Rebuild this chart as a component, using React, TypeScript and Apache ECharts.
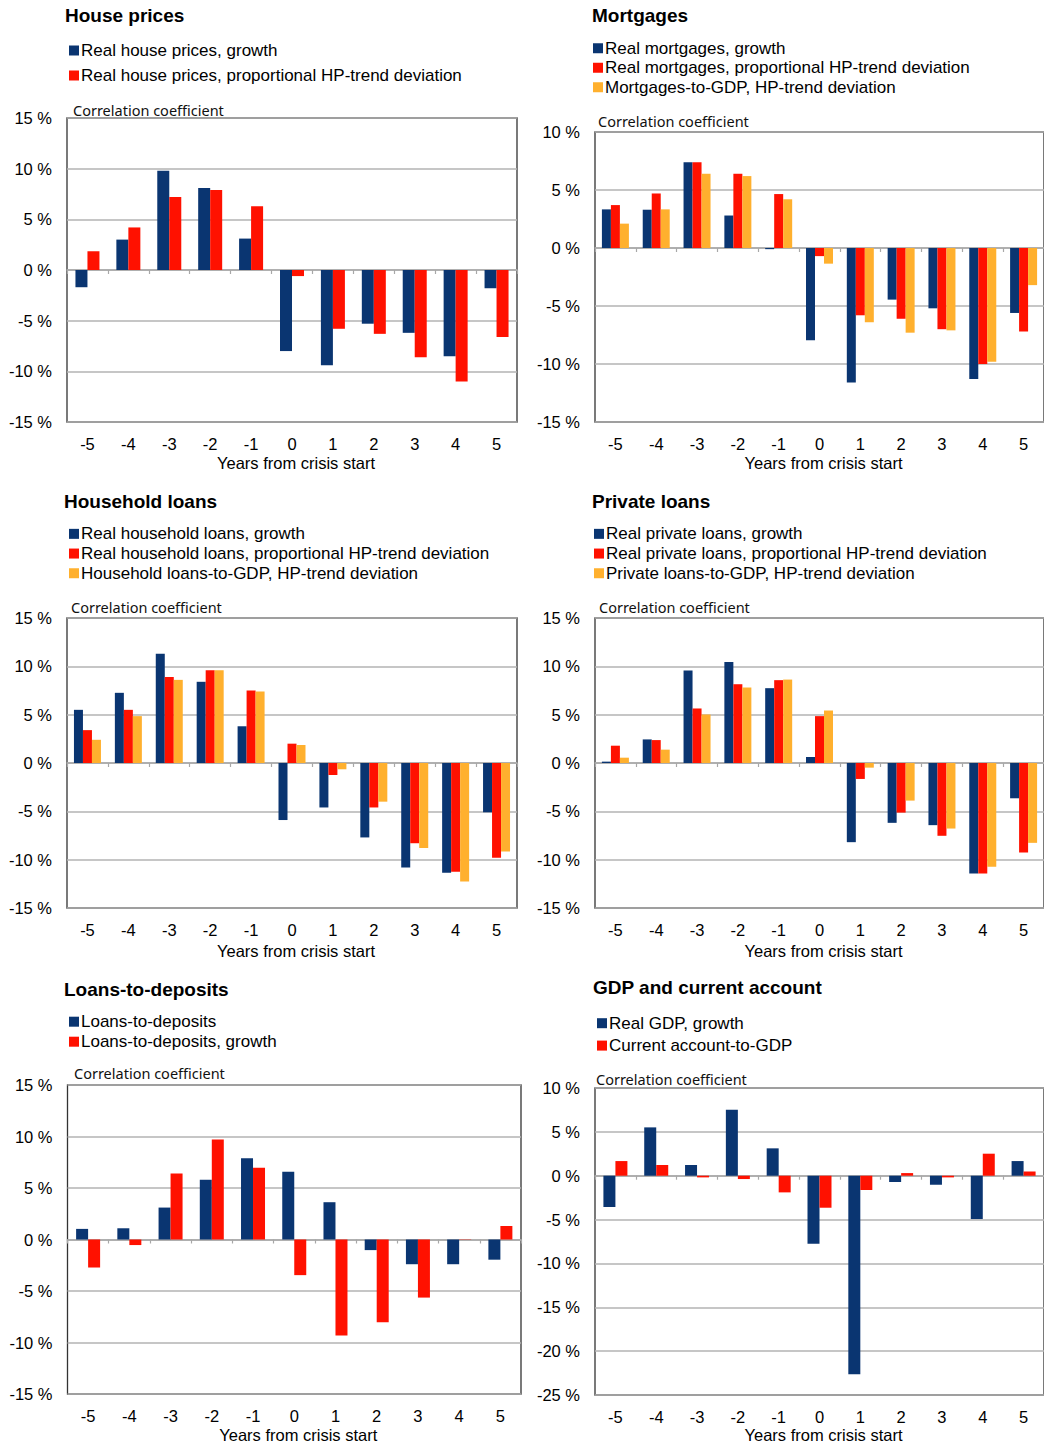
import React, { useEffect, useRef } from 'react';
import * as echarts from 'echarts';

// ---- Data ----
const YEARS = ['-5', '-4', '-3', '-2', '-1', '0', '1', '2', '3', '4', '5'];

const houseGrowth = [-1.7, 3.0, 9.8, 8.1, 3.1, -8.0, -9.4, -5.3, -6.2, -8.5, -1.8];
const houseHP = [1.85, 4.2, 7.2, 7.9, 6.3, -0.6, -5.8, -6.3, -8.6, -11.0, -6.6];

const mortGrowth = [3.33, 3.3, 7.4, 2.8, -0.1, -7.96, -11.6, -4.45, -5.2, -11.3, -5.6];
const mortHP = [3.7, 4.7, 7.4, 6.4, 4.65, -0.7, -5.8, -6.1, -7.0, -10.0, -7.2];
const mortToGDP = [2.1, 3.33, 6.4, 6.2, 4.2, -1.35, -6.4, -7.3, -7.1, -9.8, -3.2];

const hhGrowth = [5.5, 7.26, 11.3, 8.4, 3.8, -5.9, -4.6, -7.7, -10.8, -11.35, -5.1];
const hhHP = [3.4, 5.5, 8.9, 9.6, 7.5, 2.0, -1.24, -4.6, -8.3, -11.25, -9.8];
const hhToGDP = [2.4, 4.85, 8.6, 9.6, 7.4, 1.86, -0.65, -4.0, -8.8, -12.25, -9.15];

const privGrowth = [0.14, 2.44, 9.56, 10.46, 7.74, 0.62, -8.19, -6.19, -6.43, -11.42, -3.65];
const privHP = [1.79, 2.37, 5.64, 8.15, 8.57, 4.85, -1.65, -5.13, -7.53, -11.42, -9.25];
const privToGDP = [0.55, 1.38, 5.02, 7.81, 8.63, 5.43, -0.48, -3.89, -6.78, -10.73, -8.26];

const ltdLevel = [1.03, 1.09, 3.1, 5.8, 7.88, 6.57, 3.62, -1.03, -2.4, -2.4, -1.96];
const ltdGrowth = [-2.72, -0.54, 6.4, 9.71, 6.96, -3.46, -9.33, -8.04, -5.64, -0.03, 1.31];

const gdpGrowth = [-3.57, 5.51, 1.22, 7.52, 3.12, -7.75, -22.64, -0.72, -1.03, -4.94, 1.67];
const caToGDP = [1.67, 1.22, -0.19, -0.38, -1.9, -3.65, -1.63, 0.3, -0.19, 2.51, 0.49];

const BLUE = '#0A3571';
const RED = '#FF1100';
const ORANGE = '#FFB02E';

const ARIAL = '"Liberation Sans", Arial, sans-serif';
const CORR = 'Correlation coefficient';
const XNAME = 'Years from crisis start';

type S = { name: string; data: number[]; color: string };
type Panel = {
  title: string;
  grid: { left: number; top: number; width: number; height: number };
  min: number;
  max: number;
  barWidth: number;
  titlePos: [number, number];
  legendPos: [number, number];
  legendLH: number;
  corrPos: [number, number];
  nameGap: number;
  series: S[];
};

const panels: Panel[] = [
  {
    title: 'House prices',
    grid: { left: 67, top: 118, width: 450, height: 304 },
    min: -15, max: 15, barWidth: 12,
    titlePos: [65, 6], legendPos: [69, 38], legendLH: 25, corrPos: [73, 110], nameGap: 32.5,
    series: [
      { name: 'Real house prices, growth', data: houseGrowth, color: BLUE },
      { name: 'Real house prices, proportional HP-trend deviation', data: houseHP, color: RED },
    ],
  },
  {
    title: 'Mortgages',
    grid: { left: 595, top: 132, width: 459, height: 290 },
    min: -15, max: 10, barWidth: 9,
    titlePos: [592, 6], legendPos: [593, 38.5], legendLH: 19.5, corrPos: [598, 121], nameGap: 32.5,
    series: [
      { name: 'Real mortgages, growth', data: mortGrowth, color: BLUE },
      { name: 'Real mortgages, proportional HP-trend deviation', data: mortHP, color: RED },
      { name: 'Mortgages-to-GDP, HP-trend deviation', data: mortToGDP, color: ORANGE },
    ],
  },
  {
    title: 'Household loans',
    grid: { left: 67, top: 618, width: 450, height: 290 },
    min: -15, max: 15, barWidth: 9,
    titlePos: [64, 492], legendPos: [69, 524], legendLH: 19.7, corrPos: [71, 607], nameGap: 34,
    series: [
      { name: 'Real household loans, growth', data: hhGrowth, color: BLUE },
      { name: 'Real household loans, proportional HP-trend deviation', data: hhHP, color: RED },
      { name: 'Household loans-to-GDP, HP-trend deviation', data: hhToGDP, color: ORANGE },
    ],
  },
  {
    title: 'Private loans',
    grid: { left: 595, top: 618, width: 457, height: 290 },
    min: -15, max: 15, barWidth: 9,
    titlePos: [592, 492], legendPos: [594, 524], legendLH: 19.7, corrPos: [599, 607], nameGap: 34,
    series: [
      { name: 'Real private loans, growth', data: privGrowth, color: BLUE },
      { name: 'Real private loans, proportional HP-trend deviation', data: privHP, color: RED },
      { name: 'Private loans-to-GDP, HP-trend deviation', data: privToGDP, color: ORANGE },
    ],
  },
  {
    title: 'Loans-to-deposits',
    grid: { left: 67.5, top: 1085, width: 453.5, height: 311 },
    min: -15, max: 15, barWidth: 12,
    titlePos: [64, 980], legendPos: [69, 1011.7], legendLH: 20, corrPos: [74, 1073], nameGap: 32,
    series: [
      { name: 'Loans-to-deposits', data: ltdLevel, color: BLUE },
      { name: 'Loans-to-deposits, growth', data: ltdGrowth, color: RED },
    ],
  },
  {
    title: 'GDP and current account',
    grid: { left: 595, top: 1088, width: 459, height: 308 },
    min: -25, max: 10, barWidth: 12,
    titlePos: [593, 978], legendPos: [597, 1012], legendLH: 22.4, corrPos: [596, 1079], nameGap: 31,
    series: [
      { name: 'Real GDP, growth', data: gdpGrowth, color: BLUE },
      { name: 'Current account-to-GDP', data: caToGDP, color: RED },
    ],
  },
];

function buildOption() {
  const grid: any[] = [];
  const xAxis: any[] = [];
  const yAxis: any[] = [];
  const series: any[] = [];
  const title: any[] = [];
  const legend: any[] = [];
  const graphic: any[] = [];

  panels.forEach((p, i) => {
    grid.push({
      ...p.grid,
      show: true,
      borderColor: '#333',
      borderWidth: 1.3,
      backgroundColor: 'transparent',
    });
    xAxis.push({
      type: 'category',
      gridIndex: i,
      data: YEARS,
      position: 'bottom',
      axisLine: { show: false, onZero: false },
      axisTick: { show: false },
      splitLine: { show: false },
      axisLabel: { margin: 13, fontSize: 16.5, color: '#000', fontFamily: ARIAL },
      name: XNAME,
      nameLocation: 'middle',
      nameGap: p.nameGap,
      nameTextStyle: { fontSize: 16.5, color: '#000', fontFamily: ARIAL, padding: [0, 0, 0, 8] },
    });
    xAxis.push({
      type: 'category',
      gridIndex: i,
      data: YEARS,
      position: 'bottom',
      axisLine: { show: true, onZero: true, lineStyle: { color: '#A8A8A8', width: 1.5 } },
      axisTick: { show: true, length: 4, lineStyle: { color: '#A8A8A8', width: 1.2 } },
      axisLabel: { show: false },
      splitLine: { show: false },
    });
    yAxis.push({
      type: 'value',
      gridIndex: i,
      min: p.min,
      max: p.max,
      interval: 5,
      axisLine: { show: false },
      axisTick: { show: false },
      axisLabel: {
        margin: 15,
        fontSize: 16.5,
        color: '#000',
        fontFamily: ARIAL,
        formatter: (v: number) => `${v} %`,
      },
      splitLine: { lineStyle: { color: '#B3B3B3', width: 1.5 } },
    });
    p.series.forEach((s) => {
      series.push({
        type: 'bar',
        name: s.name,
        xAxisIndex: i * 2,
        yAxisIndex: i,
        data: s.data,
        barWidth: p.barWidth,
        barGap: '0%',
        itemStyle: { color: s.color },
        emphasis: { disabled: true },
      });
    });
    title.push({
      text: p.title,
      left: p.titlePos[0],
      top: p.titlePos[1],
      padding: 0,
      textStyle: { fontFamily: ARIAL, fontSize: 19, fontWeight: 'bold', color: '#000' },
    });
    legend.push({
      orient: 'vertical',
      left: p.legendPos[0],
      top: p.legendPos[1],
      padding: 0,
      itemGap: 0,
      itemWidth: 10,
      itemHeight: 10,
      icon: 'rect',
      selectedMode: false,
      data: p.series.map((s) => s.name),
      textStyle: {
        fontFamily: ARIAL,
        fontSize: 17,
        color: '#000',
        lineHeight: p.legendLH,
        padding: [0, 0, 0, -3],
      },
    });
    graphic.push({
      type: 'text',
      x: p.corrPos[0],
      y: p.corrPos[1],
      style: {
        text: CORR,
        fontFamily: '"Noto Sans", sans-serif',
        fontSize: 14.5,
        fill: '#111',
        verticalAlign: 'middle',
        align: 'left',
      },
    });
  });

  return {
    animation: false,
    backgroundColor: '#fff',
    title,
    legend,
    grid,
    xAxis,
    yAxis,
    series,
    graphic,
  };
}

export default function App() {
  const ref = useRef<HTMLDivElement>(null);
  useEffect(() => {
    if (!ref.current) return;
    const chart = echarts.init(ref.current, undefined, { renderer: 'svg' });
    chart.setOption(buildOption() as any);
    return () => chart.dispose();
  }, []);
  return (
    <div
      ref={ref}
      style={{ position: 'absolute', left: 0, top: 0, width: 1044, height: 1444 }}
    />
  );
}
